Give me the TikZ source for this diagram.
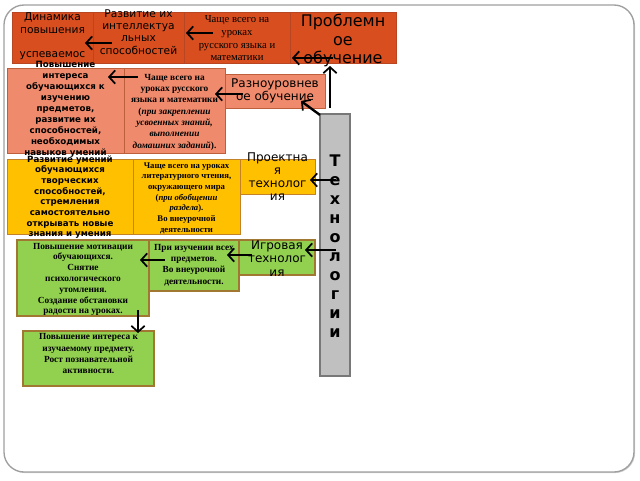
\documentclass[tikz,border=0pt]{standalone}
\usepackage{fontspec}
\setmainfont{Liberation Serif}
\newfontfamily\dejavu{DejaVu Sans}
\usetikzlibrary{arrows.meta,shadows}
\definecolor{topfill}{RGB}{216,78,30}
\definecolor{topline}{RGB}{185,70,35}
\definecolor{pinkfill}{RGB}{240,138,108}
\definecolor{pinkline}{RGB}{190,95,60}
\definecolor{yelfill}{RGB}{255,192,0}
\definecolor{yelline}{RGB}{195,130,40}
\definecolor{grnfill}{RGB}{146,208,80}
\definecolor{grnline}{RGB}{160,120,50}
\definecolor{barfill}{RGB}{192,192,192}
\definecolor{barline}{RGB}{120,120,120}
\tikzset{
  cell/.style 2 args={draw, inner sep=0pt, outer sep=0pt, minimum width=#1*0.75pt, minimum height=#2*0.75pt},
  topcell/.style={fill=topfill, draw=topline, line width=0.6pt},
  pinkcell/.style={fill=pinkfill, draw=pinkline, line width=0.6pt},
  yelcell/.style={fill=yelfill, draw=yelline, line width=0.6pt},
  grncell/.style={fill=grnfill, draw=grnline, line width=0.8pt},
  barcell/.style={fill=barfill, draw=barline, line width=0.8pt},
  sans/.style 2 args={font=\dejavu\fontsize{#1}{#2}\selectfont, align=center, inner sep=0pt},
  bsans/.style 2 args={font=\dejavu\bfseries\fontsize{#1}{#2}\selectfont, align=center, inner sep=0pt},
  serif/.style 2 args={font=\fontsize{#1}{#2}\selectfont, align=center, inner sep=0pt},
  bserif/.style 2 args={font=\bfseries\fontsize{#1}{#2}\selectfont, align=center, inner sep=0pt},
  arr/.style={->, line width=1.8pt, >={Straight Barb[length=4.5pt,width=10pt,line width=1.3pt]}}
}
\begin{document}
\begin{tikzpicture}[x=0.75pt, y=-0.75pt]
\useasboundingbox (0,0) rectangle (640,480);
\node[cell={630}{467}, draw=gray!75, line width=1pt, rounded corners=15pt, drop shadow={shadow xshift=0.8pt, shadow yshift=-0.8pt, opacity=0.35}, fill=white] (frame) at (319,238.5) {};
\node[cell={81}{51}, topcell] (dyn) at (52.5,37.5) {};
\node[cell={91}{51}, topcell] (razv) at (138.5,37.5) {};
\node[cell={106}{51}, topcell] (chash1) at (237,37.5) {};
\node[cell={106}{51}, topcell] (probl) at (343,37.5) {};
\node[cell={117}{85}, pinkcell] (interes) at (65.5,110.5) {};
\node[cell={101}{85}, pinkcell] (chash2) at (174.5,110.5) {};
\node[cell={100}{34}, pinkcell] (raznour) at (275,91) {};
\node[cell={126}{75}, yelcell] (tvorch) at (70,196.5) {};
\node[cell={107}{75}, yelcell] (chash3) at (186.5,196.5) {};
\node[cell={75}{35}, yelcell] (proekt) at (277.5,176.5) {};
\node[cell={132}{76}, grncell] (motiv) at (83,278) {};
\node[cell={90}{51}, grncell] (chash4) at (194,265.5) {};
\node[cell={76}{35}, grncell] (igr) at (277,257.5) {};
\node[cell={131}{55}, grncell] (rost) at (88.5,358.5) {};
\node[cell={30}{262}, barcell] (tech) at (335,245) {};
\node[sans={8}{9.25}] (dynT) at (52.5,36.5) {Динамика\\повышения\\~\\успеваемос};
\node[sans={8}{9.25}] (razvT) at (138.5,32) {Развитие их\\интеллектуа\\льных\\способностей};
\node[serif={8}{9.5}] (chash1T) at (237,38.5) {Чаще всего на\\уроках\\русского языка и\\математики};
\node[sans={12}{14}] (problT) at (343,40.5) {Проблемн\\ое\\обучение};
\node[bsans={6.5}{8.2}] (interesT) at (65.5,109.5) {Повышение\\интереса\\обучающихся к\\изучению\\предметов,\\развитие их\\способностей,\\необходимых\\навыков умений};
\node[bserif={7}{8.5}] (chash2T) at (174.5,112) {Чаще всего на\\уроках русского\\языка и математики\\(\textit{при закреплении}\\\textit{усвоенных знаний,}\\\textit{выполнении}\\\textit{домашних заданий}).};
\node[sans={9}{9.5}] (raznourT) at (275,91) {Разноуровнев\\ое обучение};
\node[bsans={6.5}{8}] (tvorchT) at (70,197) {Развитие умений\\обучающихся\\творческих\\способностей,\\стремления\\самостоятельно\\открывать новые\\знания и умения};
\node[bserif={6.5}{8}] (chash3T) at (186.5,198) {Чаще всего на уроках\\литературного чтения,\\окружающего мира\\(\textit{при обобщении}\\\textit{раздела}).\\Во внеурочной\\деятельности};
\node[sans={9}{9.75}] (proektT) at (277.5,176.5) {Проектна\\я\\технолог\\ия};
\node[bserif={7}{8.1}] (motivT) at (83,279.5) {Повышение мотивации\\обучающихся.\\Снятие\\психологического\\утомления.\\Создание обстановки\\радости на уроках.};
\node[bserif={7}{8.5}] (chash4T) at (194,265) {При изучении всех\\предметов.\\Во внеурочной\\деятельности.};
\node[sans={9}{10}] (igrT) at (277,258.5) {Игровая\\технолог\\ия};
\node[bserif={7}{8.5}] (rostT) at (88.5,354) {Повышение интереса к\\изучаемому предмету.\\Рост познавательной\\активности.};
\node[bsans={12}{14.25}] (techT) at (335,246) {Т\\е\\х\\н\\о\\л\\о\\г\\и\\и};
\coordinate (r1) at (112,43);
\coordinate (l1) at (85,43);
\coordinate (r2) at (213,33);
\coordinate (l2) at (186,33);
\coordinate (r3) at (333,58);
\coordinate (l3) at (292,58);
\coordinate (up1) at (330,108);
\coordinate (up2) at (330,66);
\coordinate (r4) at (138,77);
\coordinate (l4) at (108,77);
\coordinate (r5) at (243,94);
\coordinate (l5) at (215,94);
\coordinate (d1) at (320,115);
\coordinate (d2) at (301,101);
\coordinate (r6) at (336,180);
\coordinate (l6) at (310,180);
\coordinate (r7) at (336,250);
\coordinate (l7) at (305,250);
\coordinate (r8) at (252,255);
\coordinate (l8) at (227,255);
\coordinate (r9) at (165,260);
\coordinate (l9) at (140,260);
\coordinate (dn1) at (138,310);
\coordinate (dn2) at (138,333);
\draw[arr] (r1) -- (l1);
\draw[arr] (r2) -- (l2);
\draw[arr] (r3) -- (l3);
\draw[arr] (up1) -- (up2);
\draw[arr] (r4) -- (l4);
\draw[arr] (r5) -- (l5);
\draw[arr] (d1) -- (d2);
\draw[arr] (r6) -- (l6);
\draw[arr] (r7) -- (l7);
\draw[arr] (r8) -- (l8);
\draw[arr] (r9) -- (l9);
\draw[arr] (dn1) -- (dn2);
\end{tikzpicture}
\end{document}
